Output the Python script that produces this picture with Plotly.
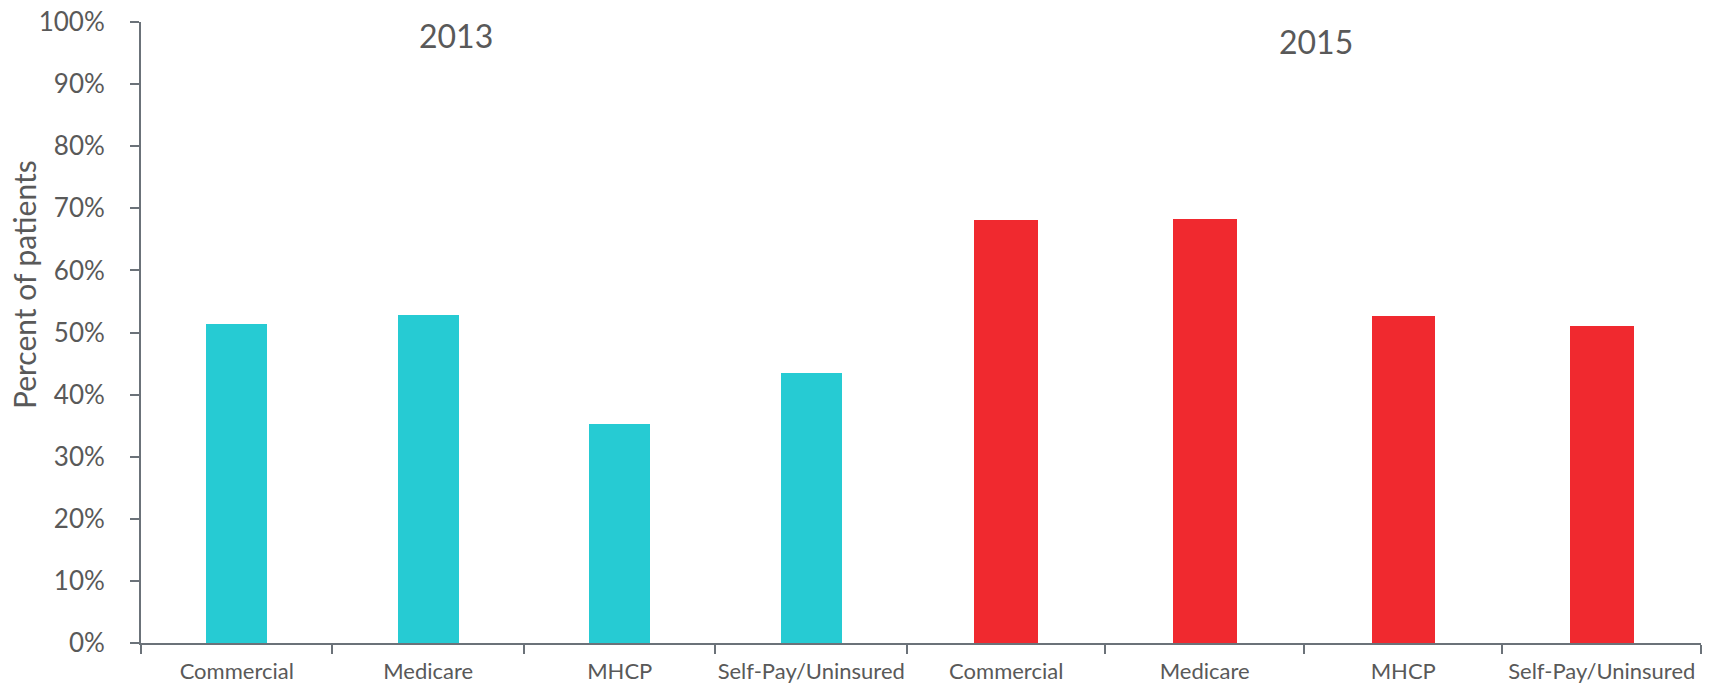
import plotly.graph_objects as go

# Payer categories and share of patients for each year
categories = ["Commercial", "Medicare", "MHCP", "Self-Pay/Uninsured"]
values_2013 = [0.514, 0.528, 0.352, 0.435]
values_2015 = [0.681, 0.683, 0.527, 0.511]
y_ticks = [0, 0.1, 0.2, 0.3, 0.4, 0.5, 0.6, 0.7, 0.8, 0.9, 1.0]
y_tick_labels = ["0%", "10%", "20%", "30%", "40%", "50%", "60%", "70%", "80%", "90%", "100%"]

TEAL = "#26CBD3"
RED = "#F0292F"
AXIS = "#6B7279"
TEXT = "#595959"
FONT = "Lato"

W, H = 1711, 684
ML, MR, MT, MB = 141, 10, 22, 41
split = 0.491

fig = go.Figure()
fig.add_trace(go.Bar(x=categories, y=values_2013, marker=dict(color=TEAL, line=dict(width=0)),
                     width=0.32, xaxis="x", yaxis="y", showlegend=False))
fig.add_trace(go.Bar(x=categories, y=values_2015, marker=dict(color=RED, line=dict(width=0)),
                     width=0.32, xaxis="x2", yaxis="y", showlegend=False))

xcommon = dict(
    type="category", categoryorder="array", categoryarray=categories,
    range=[-0.5, 3.5], showline=True, linecolor=AXIS, linewidth=2,
    ticks="outside", tickson="boundaries", ticklen=9, tickwidth=1.5, tickcolor=AXIS,
    ticklabelstandoff=8, tickangle=0, automargin=False,
    showgrid=False, zeroline=False,
    tickfont=dict(family=FONT, size=22, color=TEXT), fixedrange=True,
)

fig.update_layout(
    width=W, height=H,
    margin=dict(l=ML, r=MR, t=MT, b=MB),
    paper_bgcolor="white", plot_bgcolor="white",
    bargap=0,
    xaxis=dict(domain=[0, split], anchor="y", **xcommon),
    xaxis2=dict(domain=[split, 1], anchor="y", **xcommon),
    yaxis=dict(
        range=[0, 1], tickvals=y_ticks, ticktext=y_tick_labels,
        showline=True, linecolor=AXIS, linewidth=2,
        ticks="outside", ticklen=9, tickwidth=1.5, tickcolor=AXIS,
        ticklabelstandoff=20, automargin=False,
        showgrid=False, zeroline=False,
        tickfont=dict(family=FONT, size=26, color=TEXT), fixedrange=True,
    ),
    font=dict(family=FONT, color=TEXT),
)

pw = W - ML - MR
ph = H - MT - MB


def px_x(p):
    return (p - ML) / pw


def px_y(p):
    return (H - MB - p) / ph


fig.add_annotation(text="Percent of patients", textangle=-90, xref="paper", yref="paper",
                   x=px_x(24), y=px_y(285), xanchor="center", yanchor="middle", showarrow=False,
                   font=dict(family=FONT, size=30, color=TEXT))
fig.add_annotation(text="2013", xref="paper", yref="paper", x=px_x(456), y=px_y(36),
                   xanchor="center", yanchor="middle", showarrow=False,
                   font=dict(family=FONT, size=32, color=TEXT))
fig.add_annotation(text="2015", xref="paper", yref="paper", x=px_x(1316), y=px_y(41),
                   xanchor="center", yanchor="middle", showarrow=False,
                   font=dict(family=FONT, size=32, color=TEXT))

fig.write_html("out.html")
